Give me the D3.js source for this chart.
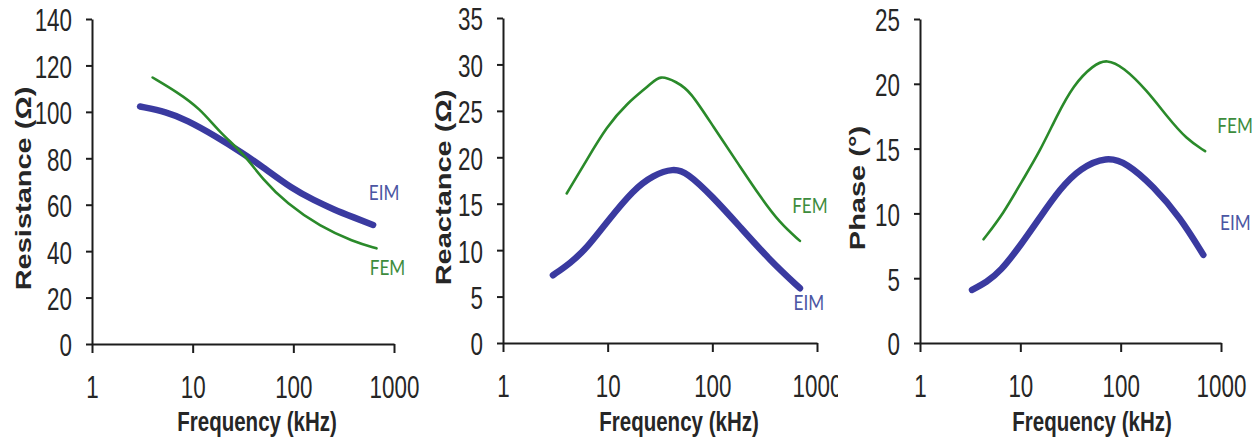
<!DOCTYPE html>
<html>
<head>
<meta charset="utf-8">
<script src="https://cdn.jsdelivr.net/npm/d3@7"></script>
<style>
body { margin: 0; background: #fff; }
svg { display: block; }
</style>
</head>
<body>
<svg id="chart" width="1260" height="442"></svg>
<script>
// values (frequency in kHz)
var xTicks = [1, 10, 100, 1000];

var resFreqEim = [3, 5.5, 8.7, 17, 32, 47, 100, 160, 250, 400, 620];
var resEim     = [102.3, 100, 96.5, 89.5, 82, 77, 66.5, 62, 58, 54.5, 51.3];
var resFreqFem = [4, 6.9, 11.8, 18.7, 31.8, 50, 86, 184, 394, 670];
var resFem     = [114.8, 108.7, 101.5, 91, 82.2, 70.7, 60.6, 50.6, 44.1, 41.2];

var reaFreqEim = [3, 4.4, 6.3, 10.1, 17.6, 27.3, 42.4, 56.9, 100, 184, 355, 687];
var reaEim     = [7.3, 8.6, 10.2, 13.2, 16.5, 18.1, 18.8, 18.4, 15.8, 12.5, 8.9, 5.9];
var reaFreqFem = [4.06, 6.3, 9.8, 15.2, 25.4, 31.6, 45.6, 61, 102, 184, 285, 443, 687];
var reaFem     = [16.1, 19.7, 23.3, 25.8, 27.8, 28.9, 28.1, 27.2, 23.3, 19.0, 15.8, 12.9, 11.0];

var phaFreqEim = [3.3, 4.6, 6.3, 10.2, 15.7, 24.9, 39.4, 72.6, 115, 212, 391, 667];
var phaEim     = [4.1, 4.7, 5.5, 7.6, 9.7, 11.9, 13.5, 14.4, 13.9, 12.1, 9.7, 6.8];
var phaFreqFem = [4.3, 6.8, 10.3, 15.7, 23, 33.7, 53.4, 72.6, 106, 182, 288, 456, 694];
var phaFem     = [8.0, 10.0, 12.45, 14.8, 17.5, 19.9, 21.45, 21.9, 21.3, 19.5, 17.5, 15.7, 14.8];

var yTitles = ["Resistance (\u03A9)", "Reactance (\u03A9)", "Phase (\u00B0)"];
var yMaxes = [140, 35, 25];
var ySteps = [20, 5, 5];
var xTitle = "Frequency (kHz)";
var seriesNames = ["EIM", "FEM"];

var blue = "#3a3aa0";
var green = "#2a8a2a";
var squish = 0.7;

function zip(a, b) {
    return a.map(function(d, i) { return [d, b[i]]; });
}

var panels = [
    { x0: 0, x1: 420, left: 92, right: 394, top: 19, bottom: 344,
      yTitleX: 23, xTitleX: 257,
      eim: zip(resFreqEim, resEim), fem: zip(resFreqFem, resFem),
      eimOff: [11, -33], femOff: [11, 19] },
    { x0: 420, x1: 838, left: 503, right: 817, top: 18, bottom: 343,
      yTitleX: 443, xTitleX: 679,
      eim: zip(reaFreqEim, reaEim), fem: zip(reaFreqFem, reaFem),
      eimOff: [9, 14], femOff: [10, -36] },
    { x0: 840, x1: 1260, left: 920, right: 1221, top: 19, bottom: 343,
      yTitleX: 857, xTitleX: 1092,
      eim: zip(phaFreqEim, phaEim), fem: zip(phaFreqFem, phaFem),
      eimOff: [32, -33], femOff: [30, -26] }
];

var svg = d3.select("#chart");

panels.forEach(function(p, i) {
    svg.append("clipPath")
        .attr("id", "clip" + i)
        .append("rect")
        .attr("x", p.x0).attr("y", 0)
        .attr("width", p.x1 - p.x0).attr("height", 442);

    var g = svg.append("g").attr("clip-path", "url(#clip" + i + ")");

    var x = d3.scaleLog().domain([1, 1000]).range([p.left, p.right]);
    var y = d3.scaleLinear().domain([0, yMaxes[i]]).range([p.bottom, p.top]);

    // y axis
    var ya = g.append("g")
        .attr("transform", "translate(" + p.left + ",0)")
        .call(d3.axisLeft(y)
            .tickValues(d3.range(0, yMaxes[i] + ySteps[i], ySteps[i]))
            .tickFormat(d3.format("d"))
            .tickSize(6)
            .tickSizeOuter(0));
    ya.selectAll("text")
        .attr("x", 0)
        .attr("dy", "0.37em")
        .attr("transform", "translate(-20,0) scale(" + squish + ",1)");

    // x axis
    var xa = g.append("g")
        .attr("transform", "translate(0," + p.bottom + ")")
        .call(d3.axisBottom(x)
            .tickValues(xTicks)
            .tickFormat(d3.format("d"))
            .tickSize(9)
            .tickSizeOuter(0));
    xa.selectAll("text")
        .attr("y", 0)
        .attr("dy", 0)
        .attr("transform", "translate(0,54) scale(" + squish + ",1)");

    g.selectAll(".domain, .tick line")
        .attr("stroke", "#1c1c1c")
        .attr("stroke-width", 2);
    g.selectAll(".tick text")
        .attr("font-family", "'Liberation Sans', Arial, sans-serif")
        .attr("font-size", "32px")
        .attr("fill", "#262626");

    // titles
    g.append("text")
        .attr("transform", "translate(" + p.xTitleX + ",431) scale(0.76,1)")
        .attr("text-anchor", "middle")
        .attr("font-family", "'Liberation Sans', Arial, sans-serif")
        .attr("font-weight", "bold")
        .attr("font-size", "27px")
        .attr("fill", "#262626")
        .text(xTitle);

    g.append("text")
        .attr("transform", "translate(" + p.yTitleX + "," + ((p.top + p.bottom) / 2 + 7) + ") rotate(-90) scale(1,0.76)")
        .attr("text-anchor", "middle")
        .attr("dy", "0.36em")
        .attr("font-family", "'Liberation Sans', Arial, sans-serif")
        .attr("font-weight", "bold")
        .attr("font-size", "29px")
        .attr("fill", "#262626")
        .text(yTitles[i]);

    var line = d3.line()
        .x(function(d) { return x(d[0]); })
        .y(function(d) { return y(d[1]); })
        .curve(d3.curveBasis);

    g.append("path")
        .attr("d", line(p.eim))
        .attr("fill", "none")
        .attr("stroke", blue)
        .attr("stroke-width", 6.5)
        .attr("stroke-linecap", "round")
        .attr("stroke-linejoin", "round");

    g.append("path")
        .attr("d", line(p.fem))
        .attr("fill", "none")
        .attr("stroke", green)
        .attr("stroke-width", 2.6)
        .attr("stroke-linecap", "round");

    // series labels next to the line ends
    var eimEnd = p.eim[p.eim.length - 1];
    var femEnd = p.fem[p.fem.length - 1];
    var labels = [
        { name: seriesNames[0], pt: eimEnd, off: p.eimOff, color: "#4b56a3" },
        { name: seriesNames[1], pt: femEnd, off: p.femOff, color: "#3d8c3d" }
    ];
    labels.forEach(function(l) {
        g.append("text")
            .attr("transform", "translate(" + (x(l.pt[0]) + l.off[0]) + "," + (y(l.pt[1]) + l.off[1]) + ") scale(0.78,1)")
            .attr("text-anchor", "middle")
            .attr("dy", "0.36em")
            .attr("font-family", "Lato, 'Open Sans', sans-serif")
            .attr("font-size", "22px")
            .attr("fill", l.color)
            .text(l.name);
    });
});
</script>
</body>
</html>
